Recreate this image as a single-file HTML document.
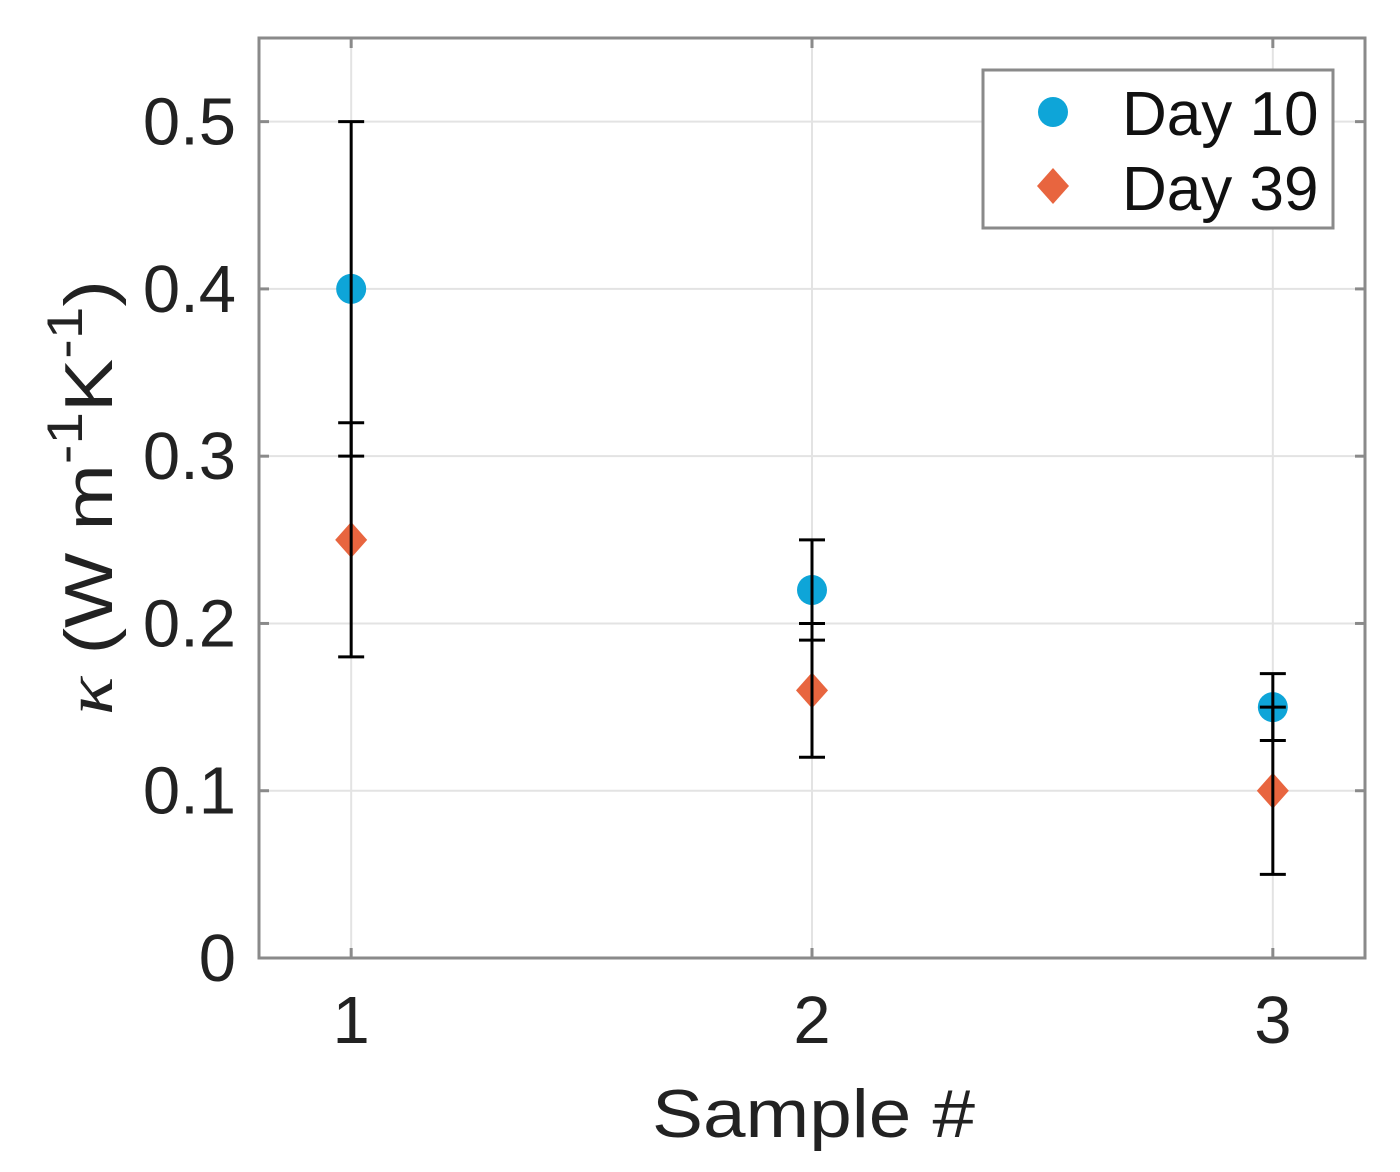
<!DOCTYPE html>
<html><head><meta charset="utf-8"><style>
html,body{margin:0;padding:0;background:#fff;}
svg{display:block;font-family:"Liberation Sans",Arial,sans-serif;}
</style></head><body>
<svg id="chart" width="1400" height="1172" viewBox="0 0 1400 1172">
<g id="grid"></g>
<g id="ticks"></g>
<g id="marks"></g>
<rect x="259" y="38" width="1106" height="920" fill="none" stroke="#8a8a8a" stroke-width="3"/>
<text x="652" y="1137" font-size="68" textLength="323" lengthAdjust="spacingAndGlyphs" fill="#222">Sample #</text>
<text transform="translate(112,715) rotate(-90)" font-size="68" textLength="435" lengthAdjust="spacingAndGlyphs" fill="#222"><tspan font-family="'Liberation Serif',serif" font-style="italic">κ</tspan> (W m<tspan dy="-30" font-size="50">-1</tspan><tspan dy="30">K</tspan><tspan dy="-30" font-size="50">-1</tspan><tspan dy="30">)</tspan></text>
<g>
<rect x="983" y="70" width="350" height="158" fill="#fff" stroke="#8a8a8a" stroke-width="3"/>
<circle cx="1053" cy="112" r="15" fill="#0ea5d8"/>
<polygon points="1053,168 1069,186 1053,204 1037,186" fill="#e8653f"/>
<text x="1122" y="135" font-size="62" fill="#111">Day 10</text>
<text x="1122" y="210" font-size="62" fill="#111">Day 39</text>
</g>
</svg>
<script>
const categories = [1, 2, 3];
const day10 = [0.40, 0.22, 0.15];
const day10Low = [0.30, 0.19, 0.13];
const day10High = [0.50, 0.25, 0.17];
const day39 = [0.25, 0.16, 0.10];
const day39Low = [0.18, 0.12, 0.05];
const day39High = [0.32, 0.20, 0.15];
const yTicks = [0, 0.1, 0.2, 0.3, 0.4, 0.5];
const yTickLabels = ["0", "0.1", "0.2", "0.3", "0.4", "0.5"];
const xTickLabels = ["1", "2", "3"];

const L=259,R=1365,T=38,B=958;
const xMin=0.8,xMax=3.2,yMin=0,yMax=0.55;
const sx=v=>L+(v-xMin)/(xMax-xMin)*(R-L);
const sy=v=>B-(v-yMin)/(yMax-yMin)*(B-T);
const NS="http://www.w3.org/2000/svg";
function mk(tag,attrs,parent){const e=document.createElementNS(NS,tag);for(const k in attrs)e.setAttribute(k,attrs[k]);parent.appendChild(e);return e;}
const grid=document.getElementById('grid'),ticks=document.getElementById('ticks'),marks=document.getElementById('marks');

yTicks.forEach((v,i)=>{
  const y=sy(v);
  if(v>yMin){const g=mk('line',{x1:L,x2:R,y1:y,y2:y,stroke:'#e3e3e3','stroke-width':2},grid);
  
  }
  const t1=mk('line',{x1:L,x2:L+10,y1:y,y2:y,stroke:'#8a8a8a','stroke-width':3},ticks);
  
  
  const t2=mk('line',{x1:R-10,x2:R,y1:y,y2:y,stroke:'#8a8a8a','stroke-width':3},ticks);
  
  
  const lb=mk('text',{x:236,y:y+23,'font-size':67,'text-anchor':'end',fill:'#222'},ticks);
  lb.textContent=yTickLabels[i];
  
  
});
categories.forEach((c,i)=>{
  const x=sx(c);
  const g=mk('line',{x1:x,x2:x,y1:T,y2:B,stroke:'#e3e3e3','stroke-width':2},grid);
  
  
  const t1=mk('line',{x1:x,x2:x,y1:B-10,y2:B,stroke:'#8a8a8a','stroke-width':3},ticks);
  
  
  const t2=mk('line',{x1:x,x2:x,y1:T,y2:T+10,stroke:'#8a8a8a','stroke-width':3},ticks);
  
  
  const lb=mk('text',{x:x,y:1043,'font-size':67,'text-anchor':'middle',fill:'#222'},ticks);
  lb.textContent=xTickLabels[i];
  
  
});
function errbar(x,lo,hi,name){
  const g=mk('g',{},marks);
  
  
  mk('line',{x1:x,x2:x,y1:sy(lo),y2:sy(hi),stroke:'#000','stroke-width':3},g);
  mk('line',{x1:x-13,x2:x+13,y1:sy(lo),y2:sy(lo),stroke:'#000','stroke-width':3},g);
  mk('line',{x1:x-13,x2:x+13,y1:sy(hi),y2:sy(hi),stroke:'#000','stroke-width':3},g);
}
categories.forEach((c,i)=>{
  const x=sx(c);
  const p=mk('circle',{cx:x,cy:sy(day10[i]),r:15,fill:'#0ea5d8'},marks);
  
  
  const y=sy(day39[i]);
  const d=mk('polygon',{points:`${x},${y-18} ${x+16},${y} ${x},${y+18} ${x-16},${y}`,fill:'#e8653f'},marks);
  
  
});
categories.forEach((c,i)=>{
  const x=sx(c);
  errbar(x,day10Low[i],day10High[i],'errorbar-day10');
  errbar(x,day39Low[i],day39High[i],'errorbar-day39');
});
</script>
</body></html>
